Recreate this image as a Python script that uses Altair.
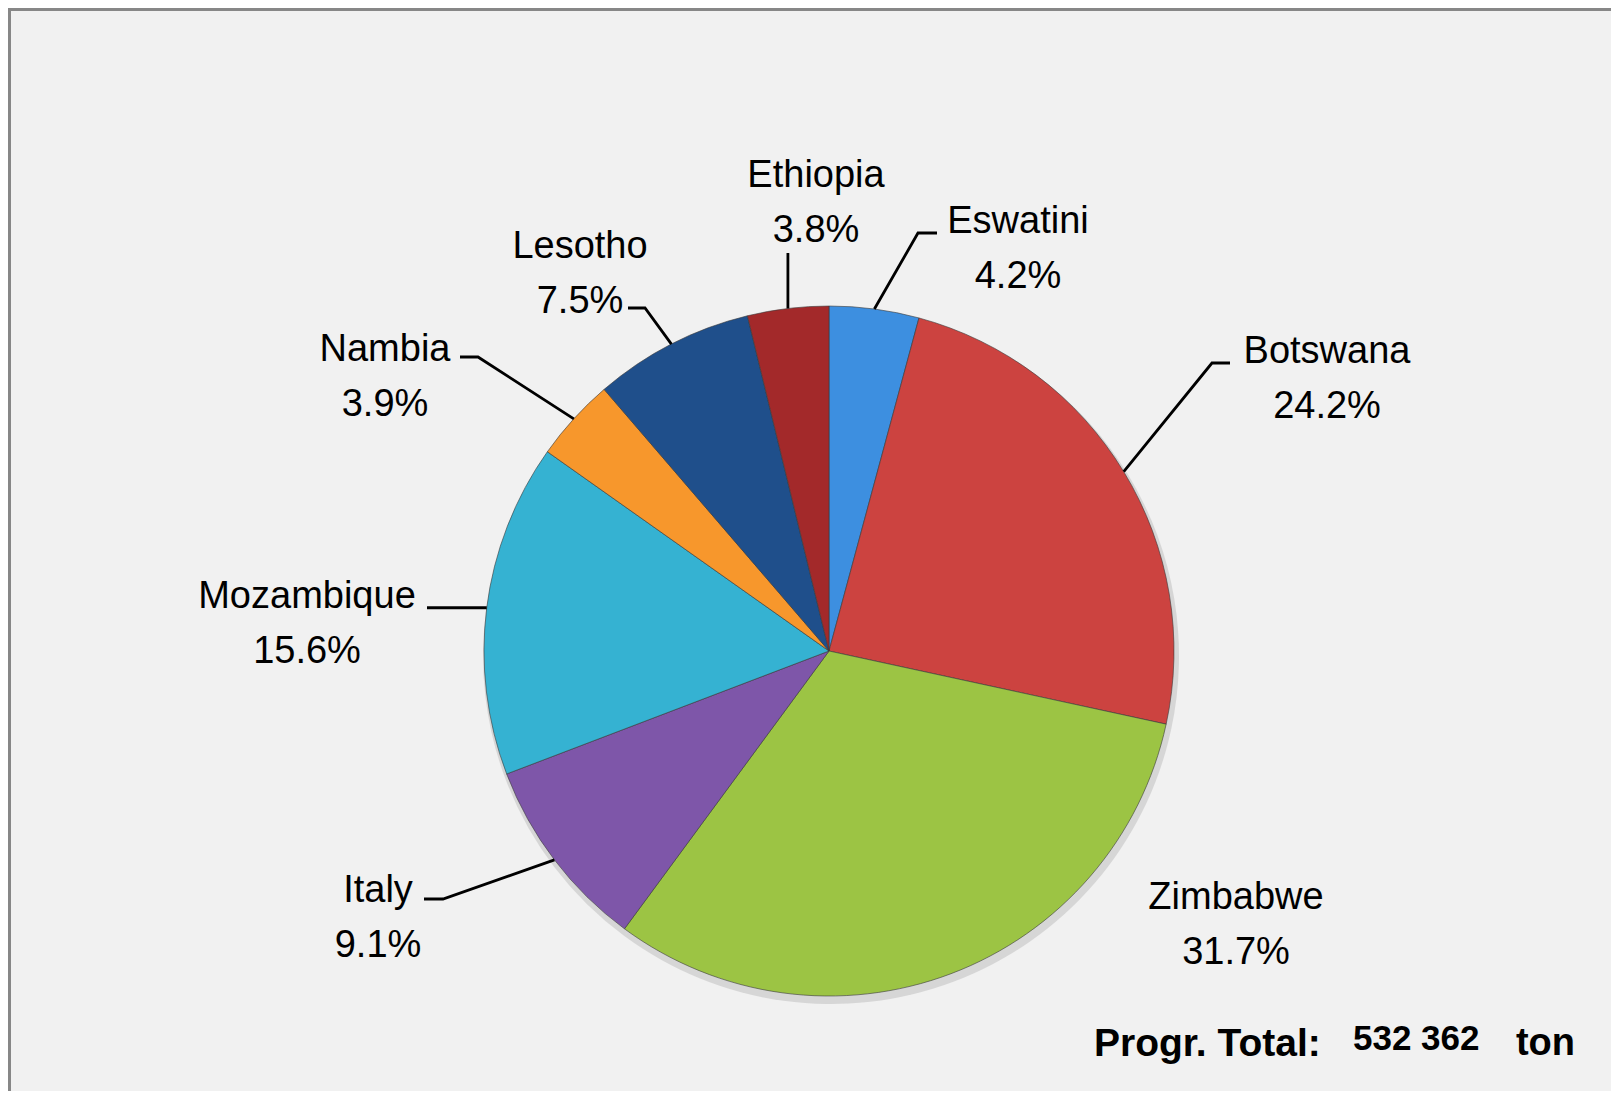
import math
import altair as alt
import pandas as pd

# ---- data ----
countries = ["Eswatini", "Botswana", "Zimbabwe", "Italy", "Mozambique", "Nambia", "Lesotho", "Ethiopia"]
shares = [4.2, 24.2, 31.7, 9.1, 15.6, 3.9, 7.5, 3.8]
colors = ["#3d8fe0", "#cc4340", "#9cc444", "#7e56a9", "#35b2d2", "#f7972c", "#1f4f8b", "#a3292a"]
total_label = "532 362"

# ---- layout (canvas pixels) ----
W, H = 1603, 1083
CX, CY, R = 821, 643, 345
FONT = "Liberation Sans Narrow, Arial Narrow, Liberation Sans, sans-serif"

label_pos = {  # center x, first-line baseline y
    "Ethiopia": (808, 179), "Eswatini": (1010, 225), "Lesotho": (572, 250),
    "Nambia": (377, 353), "Botswana": (1319, 355), "Mozambique": (299, 600),
    "Italy": (370, 894), "Zimbabwe": (1228, 901),
}
leader_pts = {  # points after the slice edge point
    "Eswatini": [(910, 225), (929, 225)],
    "Botswana": [(1204, 355), (1222, 355)],
    "Ethiopia": [(None, 245)],
    "Lesotho": [(637, 300), (620, 300)],
    "Nambia": [(470, 349), (452, 349)],
    "Mozambique": [(419, None)],
    "Italy": [(435, 891), (416, 891)],
}

pie_df = pd.DataFrame({"country": countries, "share": shares, "idx": list(range(len(countries)))})

# leader lines: start on slice edge at mid-angle
rows = []
cum = 0.0
for c, v in zip(countries, shares):
    a = 2 * math.pi * (cum + v / 2) / 100.0
    cum += v
    if c not in leader_pts:
        continue
    ex, ey = CX + R * math.sin(a), CY - R * math.cos(a)
    rows.append({"country": c, "o": 0, "x": ex, "y": ey})
    for k, (px, py) in enumerate(leader_pts[c]):
        rows.append({"country": c, "o": k + 1, "x": ex if px is None else px, "y": ey if py is None else py})
lines_df = pd.DataFrame(rows)

lab_df = pd.DataFrame({
    "country": countries,
    "text": [f"{c}\n{v:.1f}%" for c, v in zip(countries, shares)],
    "x": [label_pos[c][0] for c in countries],
    "y": [label_pos[c][1] for c in countries],
})

xs = alt.Scale(domain=[0, W], range=[0, W], nice=False, zero=False)
ys = alt.Scale(domain=[0, H], range=[0, H], nice=False, zero=False)

pie = alt.Chart(pie_df).mark_arc(
    outerRadius=R, stroke="#3a3a3a", strokeWidth=1, strokeOpacity=0.6
).encode(
    theta=alt.Theta("share:Q", stack=True),
    order=alt.Order("idx:Q"),
    color=alt.Color("country:N", scale=alt.Scale(domain=countries, range=colors), legend=None),
    x=alt.value(CX), y=alt.value(CY),
)

shadow = alt.Chart(pie_df).mark_arc(
    outerRadius=R + 3, color="#bbbbbb", opacity=0.5
).encode(
    theta=alt.Theta("share:Q", stack=True),
    order=alt.Order("idx:Q"),
    x=alt.value(CX + 2), y=alt.value(CY + 5),
)

leaders = alt.Chart(lines_df).mark_line(color="black", strokeWidth=2.8).encode(
    x=alt.X("x:Q", scale=xs, axis=None),
    y=alt.Y("y:Q", scale=ys, axis=None),
    detail="country:N",
    order="o:Q",
)

labels = alt.Chart(lab_df).mark_text(
    font=FONT, fontSize=38, lineHeight=55, lineBreak="\n", align="center",
    baseline="alphabetic", color="black"
).encode(
    x=alt.X("x:Q", scale=xs, axis=None),
    y=alt.Y("y:Q", scale=ys, axis=None),
    text="text:N",
)

tot_df = pd.DataFrame({
    "t": ["Progr. Total:", total_label, "ton"],
    "x": [1086, 1345, 1567],
    "y": [1036, 1031, 1036],
})
tot1 = alt.Chart(tot_df.iloc[[0]]).mark_text(font=FONT, fontSize=39, fontWeight="bold", align="left", color="black").encode(
    x=alt.X("x:Q", scale=xs, axis=None), y=alt.Y("y:Q", scale=ys, axis=None), text="t:N")
tot2 = alt.Chart(tot_df.iloc[[1]]).mark_text(font=FONT, fontSize=35, fontWeight="bold", align="left", color="black").encode(
    x=alt.X("x:Q", scale=xs, axis=None), y=alt.Y("y:Q", scale=ys, axis=None), text="t:N")
tot3 = alt.Chart(tot_df.iloc[[2]]).mark_text(font=FONT, fontSize=38, fontWeight="bold", align="right", color="black").encode(
    x=alt.X("x:Q", scale=xs, axis=None), y=alt.Y("y:Q", scale=ys, axis=None), text="t:N")

border_top = alt.Chart(pie_df.iloc[[0]]).mark_rule(color="#878787", strokeWidth=3).encode(
    x=alt.value(0), x2=alt.value(W), y=alt.value(1.5))
border_left = alt.Chart(pie_df.iloc[[0]]).mark_rule(color="#878787", strokeWidth=3).encode(
    x=alt.value(1.5), y=alt.value(0), y2=alt.value(H))

chart = alt.layer(
    shadow, pie, leaders, labels, tot1, tot2, tot3, border_top, border_left
).properties(
    width=W, height=H, padding=0, background="#f1f1f1",
    autosize=alt.AutoSizeParams(type="none"),
).configure_view(stroke=None)

chart.save("out.html", embed_options={"renderer": "svg", "actions": False})
